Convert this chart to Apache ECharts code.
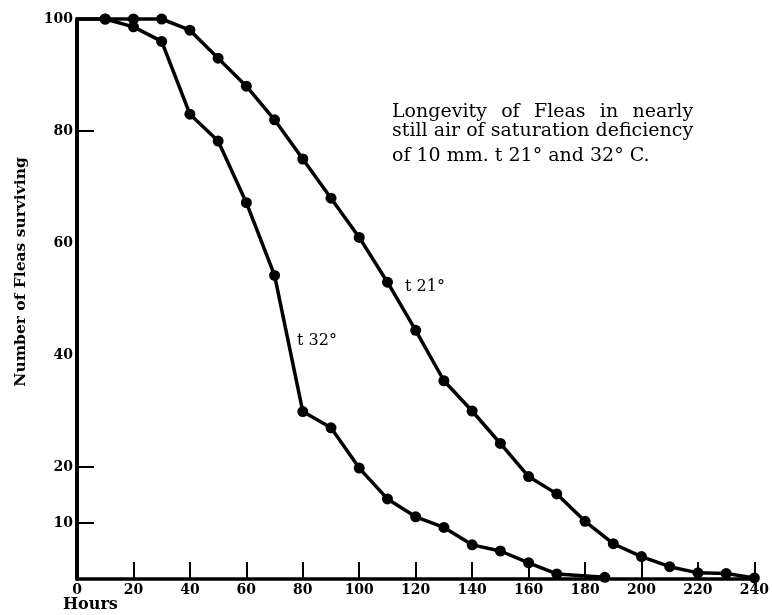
<!DOCTYPE html>
<html>
<head>
<meta charset="utf-8">
<script src="https://cdn.jsdelivr.net/npm/echarts@6/dist/echarts.min.js"></script>
<style>
html,body{margin:0;padding:0;background:#fff;}
#chart{width:772px;height:615px;}
</style>
</head>
<body>
<div id="chart"></div>
<script>
// Data
const hours21 = [0,10,20,30,40,50,60,70,80,90,100,110,120,130,140,150,160,170,180,190,200,210,220,230,240];
const surv21  = [100,100,100,100,98,93,88,82,75,68,61,53,44.4,35.4,30,24.2,18.3,15.2,10.3,6.3,4,2.2,1.1,1,0.2];
const hours32 = [0,10,20,30,40,50,60,70,80,90,100,110,120,130,140,150,160,170,187];
const surv32  = [100,100,98.6,96,83,78.2,67.2,54.2,29.9,27,19.8,14.3,11.1,9.2,6.1,5,2.9,0.9,0.3];
const yLabelValues = [10,20,40,60,80,100];
const yTickValues = [10,20,80];
const xTitle = 'Hours';
const yTitle = 'Number of Fleas surviving';
const label21 = 't 21°';
const label32 = 't 32°';
const noteLines = ['Longevity of Fleas in nearly','still air of saturation deficiency','of 10 mm. t 21° and 32° C.'];

const pair = (xs, ys) => xs.map((x, i) => [x, ys[i]]);
const serif = '"DejaVu Serif", "Liberation Serif", serif';
const noteFont = '19px ' + serif;

// justify first note line to the width of the second line
const ctx = document.createElement('canvas').getContext('2d');
ctx.font = noteFont;
const noteLeft = 392;
const fullW = ctx.measureText(noteLines[1]).width;
const words = noteLines[0].split(' ');
const wordW = words.map(w => ctx.measureText(w).width);
const gap = (fullW - wordW.reduce((a, b) => a + b, 0)) / (words.length - 1);
const wordGraphics = [];
let cx = noteLeft;
words.forEach((w, i) => {
  wordGraphics.push({type: 'text', x: cx, y: 103, style: {text: w, font: noteFont, fill: '#000', verticalAlign: 'top'}});
  cx += wordW[i] + gap;
});

const chart = echarts.init(document.getElementById('chart'));
chart.setOption({
  animation: false,
  backgroundColor: '#fff',
  grid: {left: 77, right: 15, top: 19, bottom: 36, containLabel: false},
  xAxis: {
    type: 'value', min: 0, max: 240, interval: 20,
    axisLine: {show: true, lineStyle: {color: '#000', width: 3.5}},
    axisTick: {show: true, inside: true, length: 17, lineStyle: {color: '#000', width: 2}},
    axisLabel: {color: '#000', fontFamily: serif, fontWeight: 'bold', fontSize: 14, margin: 4},
    splitLine: {show: false}
  },
  yAxis: {
    type: 'value', min: 0, max: 100,
    axisLine: {show: true, lineStyle: {color: '#000', width: 4}},
    axisTick: {show: true, inside: true, length: 17, customValues: yTickValues, lineStyle: {color: '#000', width: 2}},
    axisLabel: {color: '#000', fontFamily: serif, fontWeight: 'bold', fontSize: 14, margin: 4, customValues: yLabelValues},
    splitLine: {show: false}
  },
  graphic: [
    {type: 'text', left: 63, top: 597, style: {text: xTitle, font: 'bold 16px ' + serif, fill: '#000'}},
    {type: 'text', x: 21, y: 272, rotation: Math.PI / 2, style: {text: yTitle, font: 'bold 15.5px ' + serif, fill: '#000', align: 'center', verticalAlign: 'middle'}},
    {type: 'text', left: 405, top: 279, style: {text: label21, font: '16px ' + serif, fill: '#000'}},
    {type: 'text', left: 297, top: 333, style: {text: label32, font: '16px ' + serif, fill: '#000'}},
    ...wordGraphics,
    {type: 'text', x: noteLeft, y: 122, style: {text: noteLines[1], font: noteFont, fill: '#000', verticalAlign: 'top'}},
    {type: 'text', x: noteLeft, y: 147, style: {text: noteLines[2], font: noteFont, fill: '#000', verticalAlign: 'top'}}
  ],
  series: [
    {
      type: 'line', data: pair(hours21, surv21), clip: false,
      symbol: (v) => v[0] === 0 ? 'none' : 'circle', symbolSize: 11,
      lineStyle: {color: '#000', width: 3.5}, itemStyle: {color: '#000'}
    },
    {
      type: 'line', data: pair(hours32, surv32), clip: false,
      symbol: (v) => v[0] === 0 ? 'none' : 'circle', symbolSize: 11,
      lineStyle: {color: '#000', width: 3.5}, itemStyle: {color: '#000'}
    }
  ]
});
</script>
</body>
</html>
